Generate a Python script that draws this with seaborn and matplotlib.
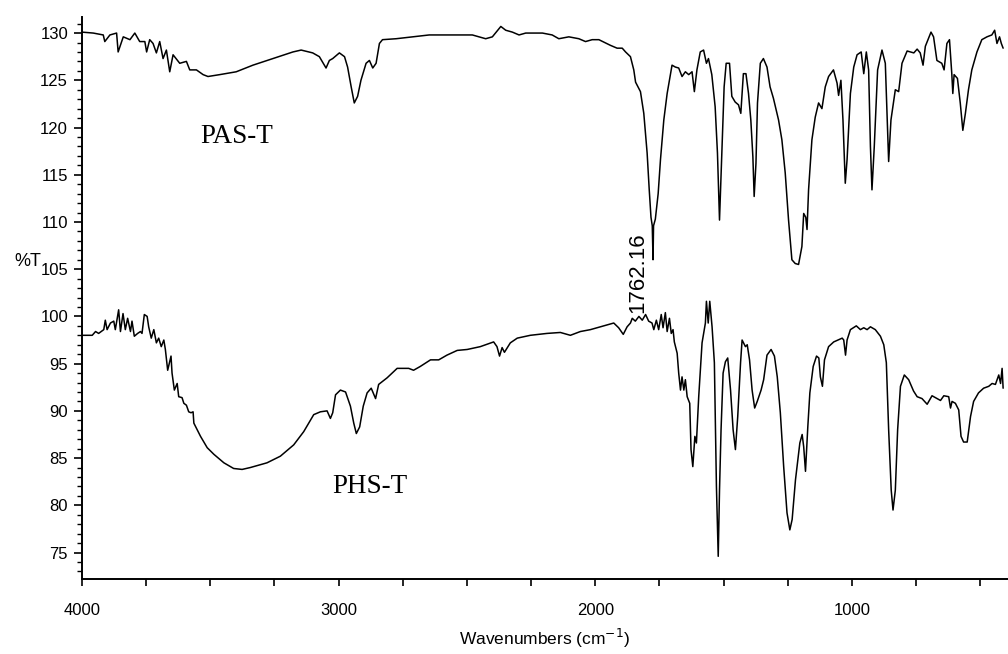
import matplotlib
matplotlib.use("Agg")
import matplotlib.pyplot as plt
from matplotlib.ticker import MultipleLocator
import pandas as pd
import seaborn as sns

# PAS-T spectrum (wavenumber cm-1, %T)
pas_wavenumber = [
    4000, 3956, 3917, 3911, 3891, 3865, 3859, 3839, 3813, 3794, 3775, 3755, 3748, 3736,
    3723, 3710, 3697, 3684, 3671, 3658, 3645, 3619, 3593, 3580, 3554, 3528, 3509, 3463,
    3399, 3334, 3256, 3178, 3146, 3101, 3075, 3049, 3036, 3023, 2997, 2977, 2965, 2951,
    2939, 2926, 2913, 2893, 2880, 2867, 2854, 2841, 2829, 2776, 2712, 2647, 2582, 2479,
    2427, 2401, 2368, 2349, 2323, 2297, 2271, 2206, 2168, 2142, 2103, 2064, 2038, 2012,
    1986, 1941, 1915, 1895, 1882, 1863, 1850, 1843, 1824, 1811, 1798, 1790, 1783, 1778,
    1775, 1773, 1766, 1755, 1746, 1733, 1720, 1707, 1701, 1688, 1675, 1662, 1649, 1636,
    1623, 1614, 1604, 1591, 1578, 1567, 1559, 1546, 1533, 1524, 1516, 1507, 1498, 1490,
    1477, 1468, 1455, 1442, 1433, 1423, 1413, 1403, 1394, 1386, 1381, 1374, 1368, 1357,
    1345, 1331, 1319, 1306, 1286, 1273, 1260, 1247, 1234, 1221, 1208, 1195, 1188, 1180,
    1175, 1169, 1156, 1143, 1130, 1117, 1104, 1091, 1072, 1058, 1052, 1043, 1035, 1026,
    1019, 1006, 993, 980, 964, 954, 944, 935, 928, 922, 913, 900, 883, 870, 861, 857,
    848, 831, 818, 805, 785, 759, 746, 734, 723, 714, 692, 682, 669, 650, 641, 630, 620,
    611, 607, 602, 589, 578, 568, 558, 546, 533, 513, 494, 474, 455, 444, 435, 425, 418,
    411,
]
pas_transmittance = [
    130.1, 130.0, 129.8, 129.1, 129.8, 130.0, 128.0, 129.6, 129.3, 130.0, 129.1, 129.1, 128.0, 129.3,
    128.9, 127.9, 129.1, 127.3, 128.2, 125.9, 127.7, 126.8, 127.0, 126.1, 126.1, 125.6, 125.4, 125.6,
    125.9, 126.6, 127.3, 128.0, 128.2, 127.9, 127.5, 126.3, 127.1, 127.3, 127.9, 127.5, 126.4, 124.3,
    122.6, 123.3, 125.0, 126.8, 127.1, 126.3, 126.8, 128.9, 129.3, 129.4, 129.6, 129.8, 129.8, 129.8,
    129.4, 129.6, 130.7, 130.3, 130.1, 129.8, 130.0, 130.0, 129.8, 129.4, 129.6, 129.4, 129.1, 129.3,
    129.3, 128.7, 128.4, 128.4, 128.0, 127.5, 126.1, 124.8, 123.8, 121.5, 117.3, 113.5, 110.5, 109.6,
    106.0, 109.6, 110.3, 113.0, 116.6, 120.8, 123.6, 125.7, 126.6, 126.4, 126.3, 125.4, 125.9, 125.6,
    125.9, 123.8, 126.1, 128.0, 128.2, 126.8, 127.3, 125.6, 122.2, 117.3, 110.2, 117.3, 124.3, 126.8,
    126.8, 123.3, 122.7, 122.4, 121.5, 125.7, 125.7, 123.6, 120.8, 116.9, 112.7, 116.2, 122.6, 126.8,
    127.3, 126.4, 124.3, 123.1, 120.8, 118.7, 115.2, 110.2, 106.0, 105.6, 105.5, 107.4, 110.9, 110.5,
    109.2, 113.4, 118.7, 121.1, 122.6, 122.0, 124.3, 125.4, 126.1, 124.7, 123.4, 125.0, 120.8, 114.1,
    116.6, 123.6, 126.4, 127.7, 128.0, 125.7, 128.0, 126.1, 118.0, 113.4, 118.0, 126.1, 128.2, 126.8, 119.7, 116.4,
    120.8, 124.0, 123.8, 126.8, 128.1, 127.9, 128.3, 127.9, 126.6, 128.6, 130.1, 129.6, 127.1, 126.8, 126.1, 128.9, 129.3,
    125.7, 123.6, 125.6, 125.2, 122.6, 119.7, 121.5, 124.0, 126.1, 128.0, 129.3, 129.6, 129.8, 130.3, 128.9, 129.6, 128.9,
    128.4,
]

# PHS-T spectrum
phs_wavenumber = [
    4000, 3960, 3947, 3935, 3915, 3909, 3902, 3889, 3876, 3870, 3857, 3850, 3840, 3831,
    3822, 3811, 3805, 3796, 3783, 3772, 3766, 3757, 3746, 3740, 3730, 3720, 3710, 3701,
    3691, 3681, 3675, 3666, 3653, 3649, 3640, 3629, 3623, 3610, 3603, 3593, 3584, 3575,
    3567, 3564, 3551, 3538, 3512, 3486, 3447, 3409, 3376, 3344, 3279, 3227, 3175, 3136,
    3097, 3071, 3045, 3032, 3023, 3012, 2993, 2973, 2954, 2941, 2931, 2918, 2904, 2889,
    2873, 2856, 2844, 2811, 2772, 2727, 2708, 2682, 2642, 2610, 2578, 2538, 2499, 2448,
    2396, 2383, 2373, 2363, 2354, 2331, 2304, 2253, 2188, 2136, 2097, 2058, 2019, 1980,
    1928, 1909, 1891, 1876, 1863, 1856, 1844, 1830, 1817, 1804, 1792, 1779, 1772, 1762,
    1753, 1743, 1736, 1727, 1720, 1711, 1704, 1697, 1692, 1681, 1675, 1668, 1662, 1655,
    1649, 1642, 1632, 1627, 1620, 1612, 1606, 1597, 1584, 1571, 1567, 1560, 1554, 1545,
    1536, 1528, 1521, 1516, 1510, 1502, 1493, 1484, 1473, 1463, 1454, 1445, 1434, 1428,
    1415, 1408, 1399, 1389, 1379, 1369, 1354, 1344, 1331, 1315, 1302, 1291, 1279, 1266,
    1253, 1242, 1233, 1220, 1203, 1194, 1188, 1181, 1172, 1164, 1151, 1138, 1129, 1123,
    1115, 1107, 1091, 1071, 1038, 1032, 1025, 1019, 1006, 983, 967, 954, 941, 928, 909,
    889, 876, 866, 857, 847, 840, 831, 822, 811, 796, 779, 760, 746, 727, 707, 688, 668,
    655, 642, 623, 616, 610, 597, 584, 575, 565, 551, 538, 526, 507, 487, 467, 454, 441,
    428, 421, 415, 411,
]
phs_transmittance = [
    98.0, 98.0, 98.4, 98.2, 98.6, 99.6, 98.6, 99.3, 99.5, 98.6, 100.7, 98.4, 100.3, 98.6,
    99.8, 98.4, 99.5, 97.9, 98.2, 98.4, 98.2, 100.2, 100.0, 98.9, 97.7, 98.6, 97.2, 97.7,
    96.8, 97.5, 96.5, 94.3, 95.8, 94.0, 92.2, 92.9, 91.5, 91.4, 90.8, 90.6, 89.9, 89.8,
    89.9, 88.7, 88.0, 87.3, 86.1, 85.4, 84.5, 83.9, 83.8, 84.0, 84.5, 85.2, 86.4, 87.8,
    89.6, 89.9, 90.0, 89.2, 89.8, 91.7, 92.2, 92.0, 90.5, 88.7, 87.6, 88.3, 90.5, 91.9,
    92.4, 91.3, 92.8, 93.5, 94.5, 94.5, 94.3, 94.7, 95.4, 95.4, 95.9, 96.4, 96.5, 96.8,
    97.3, 96.8, 95.8, 96.7, 96.2, 97.2, 97.7, 98.0, 98.2, 98.3, 98.0, 98.4, 98.6, 98.9,
    99.3, 98.8, 98.1, 98.9, 99.3, 99.8, 99.5, 100.0, 99.6, 100.2, 99.5, 99.3, 98.6, 99.6,
    98.6, 100.2, 98.8, 100.4, 98.4, 99.8, 98.2, 98.6, 97.3, 96.1, 94.0, 92.2, 93.6, 92.2,
    93.3, 91.5, 90.8, 85.9, 84.1, 87.3, 86.6, 91.5, 97.2, 99.3, 101.6, 99.3, 101.6, 98.9,
    95.1, 82.0, 74.6, 81.6, 88.0, 94.0, 95.2, 95.6, 92.2, 88.0, 85.9, 89.4, 95.1, 97.5,
    96.8, 97.0, 95.4, 92.2, 90.3, 91.0, 92.2, 93.3, 95.9, 96.5, 95.8, 93.6, 89.8, 84.1,
    79.2, 77.4, 78.5, 82.7, 86.6, 87.5, 86.2, 83.6, 88.3, 91.9, 94.7, 95.8, 95.6, 93.6,
    92.6, 95.4, 96.8, 97.3, 97.7, 97.5, 95.9, 97.5, 98.6, 99.0, 98.6, 98.8, 98.6, 98.9, 98.6,
    97.9, 97.0, 95.1, 88.0, 81.6, 79.5, 81.6, 88.0, 92.6, 93.8, 93.3, 92.1, 91.5, 91.3, 90.7, 91.6, 91.3,
    91.1, 91.6, 91.5, 90.3, 91.0, 90.8, 90.1, 87.3, 86.7, 86.7, 89.4, 91.0, 91.9, 92.4, 92.6, 92.9, 92.8,
    93.8, 92.9, 94.5, 92.4,
]

sns.set_style("ticks")
plt.rcParams["font.family"] = ["Liberation Sans", "DejaVu Sans"]
plt.rcParams["text.color"] = "black"
plt.rcParams["axes.labelcolor"] = "black"
plt.rcParams["xtick.color"] = "black"
plt.rcParams["ytick.color"] = "black"

df_pas = pd.DataFrame({"wavenumber": pas_wavenumber, "T": pas_transmittance})
df_phs = pd.DataFrame({"wavenumber": phs_wavenumber, "T": phs_transmittance})

fig = plt.figure(figsize=(10.08, 6.54), dpi=100)
ax = fig.add_axes([0.0813, 0.1147, 0.9187, 0.8593])

for df in (df_pas, df_phs):
    sns.lineplot(data=df, x="wavenumber", y="T", sort=False, estimator=None,
                 color="black", linewidth=1.1, ax=ax)

ax.set_xlim(4000, 392)
ax.set_ylim(72.2, 131.7)

ax.xaxis.set_major_locator(MultipleLocator(1000))
ax.xaxis.set_minor_locator(MultipleLocator(250))
ax.yaxis.set_major_locator(MultipleLocator(5))
ax.yaxis.set_minor_locator(MultipleLocator(1))
ax.tick_params(axis="x", which="both", direction="out", length=5, width=1.2,
               pad=12, labelsize=12)
ax.tick_params(axis="y", which="major", direction="out", length=6, width=1.2,
               pad=4, labelsize=12)
ax.tick_params(axis="y", which="minor", direction="out", length=3.5, width=1.0)

sns.despine(ax=ax)
for side in ("left", "bottom"):
    ax.spines[side].set_linewidth(1.4)
    ax.spines[side].set_color("black")

ax.set_xlabel("Wavenumbers (cm$^{-1}$)", fontsize=12.5)
ax.xaxis.set_label_coords(0.5, -0.085)
ax.set_ylabel("%T", fontsize=13, rotation=0)
ax.yaxis.set_label_coords(-0.059, 0.55)

ax.text(3398, 119.0, "PAS-T", family="Liberation Serif", fontsize=19.5,
        ha="center", va="center")
ax.text(2880, 82.0, "PHS-T", family="Liberation Serif", fontsize=19.5,
        ha="center", va="center")
ax.text(1836, 104.6, "1762.16", fontsize=16, rotation=90, ha="center", va="center")

fig.savefig("out.png", dpi=100)
